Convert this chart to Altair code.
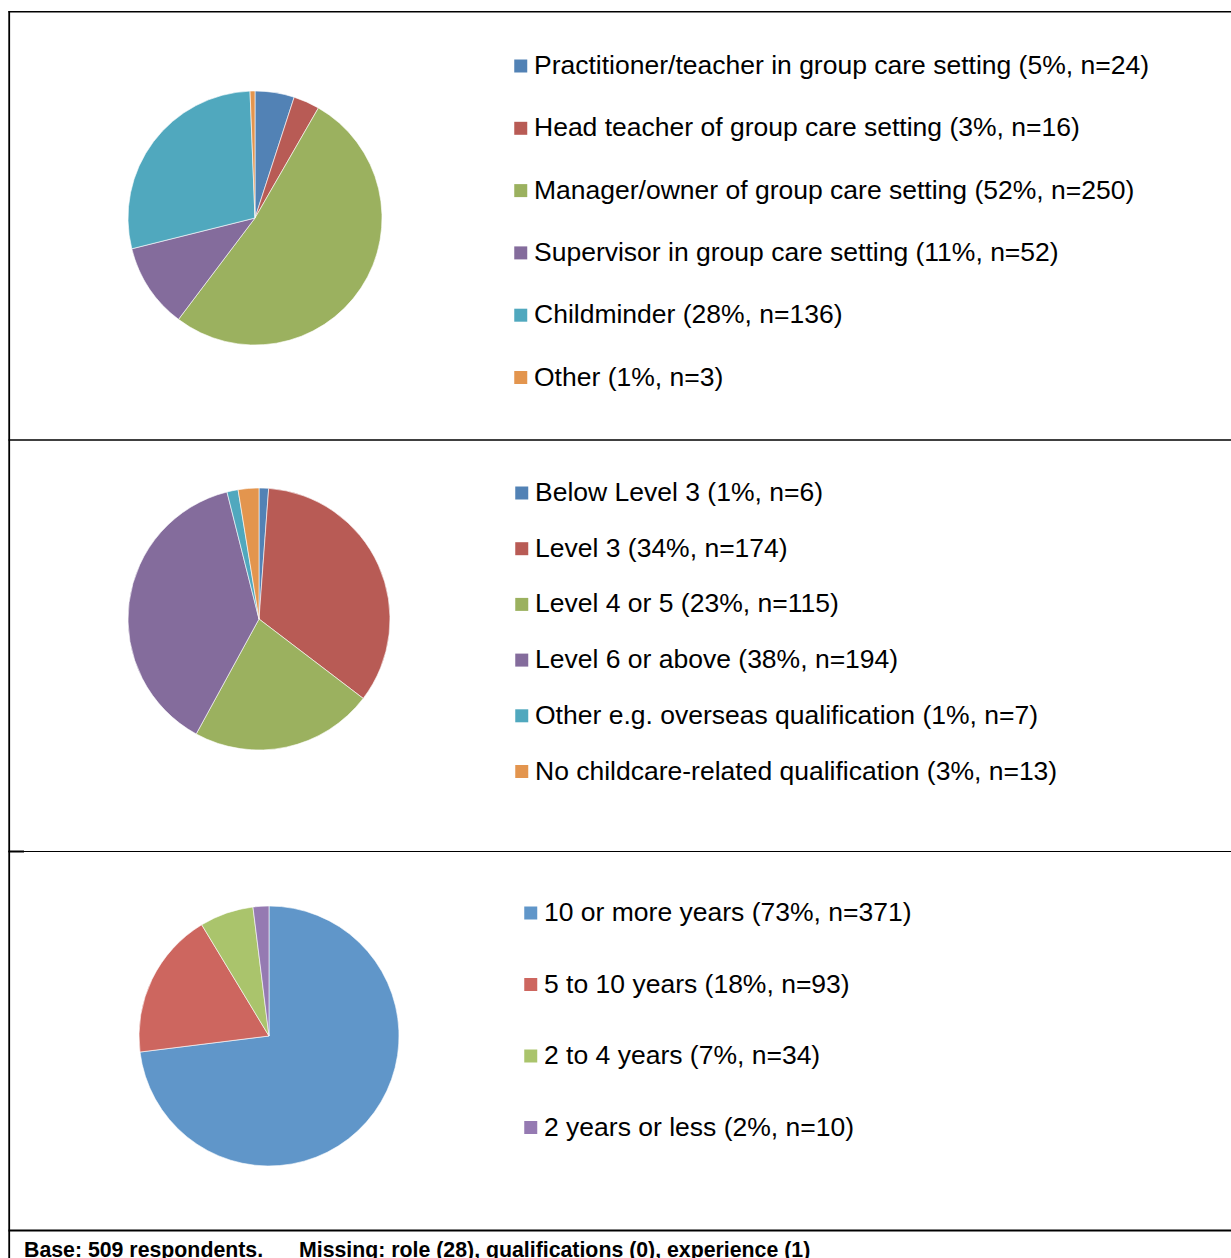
import altair as alt
import pandas as pd

# --- data -------------------------------------------------------------
role_labels = [
    "Practitioner/teacher in group care setting (5%, n=24)",
    "Head teacher of group care setting (3%, n=16)",
    "Manager/owner of group care setting (52%, n=250)",
    "Supervisor in group care setting (11%, n=52)",
    "Childminder (28%, n=136)",
    "Other (1%, n=3)",
]
role_counts = [24, 16, 250, 52, 136, 3]

qual_labels = [
    "Below Level 3 (1%, n=6)",
    "Level 3 (34%, n=174)",
    "Level 4 or 5 (23%, n=115)",
    "Level 6 or above (38%, n=194)",
    "Other e.g. overseas qualification (1%, n=7)",
    "No childcare-related qualification (3%, n=13)",
]
qual_counts = [6, 174, 115, 194, 7, 13]

exp_labels = [
    "10 or more years (73%, n=371)",
    "5 to 10 years (18%, n=93)",
    "2 to 4 years (7%, n=34)",
    "2 years or less (2%, n=10)",
]
exp_counts = [371, 93, 34, 10]

footer_text = [
    "Base: 509 respondents.",
    "Missing: role (28), qualifications (0), experience (1)",
]

# --- styling ----------------------------------------------------------
office_colors = ["#5282B5", "#B85B55", "#9BB15F", "#846C9C", "#50A8BE", "#E3954E"]
light_colors = ["#6096C9", "#CD665F", "#AAC46C", "#957AB2"]
FONT = "Liberation Sans"
LABEL_SIZE = 26.5
W, H = 1231, 1258


def pie(labels, counts, colors, cx, cy, r, lx, ly, row_pad, name):
    df = pd.DataFrame({"label": labels, "n": counts, "idx": range(len(labels))})
    return (
        alt.Chart(df, name=name)
        .mark_arc(radius=r, stroke="#ffffff", strokeWidth=0.6)
        .encode(
            x=alt.value(cx),
            y=alt.value(cy),
            theta=alt.Theta("n:Q", stack=True),
            order=alt.Order("idx:Q"),
            color=alt.Color(
                "label:N",
                sort=labels,
                scale=alt.Scale(domain=labels, range=colors),
                legend=alt.Legend(
                    title=None,
                    orient="none",
                    legendX=lx,
                    legendY=ly,
                    padding=0,
                    symbolType="square",
                    symbolSize=169,
                    symbolStrokeWidth=0,
                    labelFont=FONT,
                    labelFontSize=LABEL_SIZE,
                    labelColor="#000000",
                    labelOffset=0,
                    labelLimit=900,
                    rowPadding=row_pad,
                ),
            ),
        )
    )


one = alt.Data(values=[{}])


def rule(x1, x2, y1, y2, w):
    return alt.Chart(one).mark_rule(color="#000000", strokeWidth=w).encode(
        x=alt.value(x1), x2=alt.value(x2), y=alt.value(y1), y2=alt.value(y2)
    )


def footer(txt, x):
    return alt.Chart(one).mark_text(
        align="left", baseline="alphabetic", font=FONT, fontSize=21.3,
        fontWeight="bold", color="#000000",
    ).encode(x=alt.value(x), y=alt.value(1257), text=alt.value(txt))


layers = [
    # table frame
    rule(9.2, 9.2, 11, H, 1.8),
    rule(8.5, W, 11.8, 11.8, 1.6),
    rule(8.5, W, 440, 440, 1.6),
    rule(8.5, W, 851.5, 851.5, 1.0),
    rule(8.5, 24, 851.5, 851.5, 2.0),
    rule(8.5, W, 1230.5, 1230.5, 1.8),
    # pies
    pie(role_labels, role_counts, office_colors, 255, 218, 127, 507.5, 52.75, 61.8 - LABEL_SIZE, "role"),
    pie(qual_labels, qual_counts, office_colors, 259, 619, 131, 508.5, 479.75, 55.2 - LABEL_SIZE, "qual"),
    pie(exp_labels, exp_counts, light_colors, 269, 1036, 130, 517.5, 899.75, 71.0 - LABEL_SIZE, "exp"),
    footer(footer_text[0], 24),
    footer(footer_text[1], 299),
]

chart = (
    alt.layer(*layers)
    .resolve_scale(color="independent", theta="independent")
    .properties(width=W, height=H, autosize="none", padding=0, background="#ffffff")
    .configure_view(stroke=None)
)

chart.save("out.html", embed_options={"renderer": "svg", "actions": False})
